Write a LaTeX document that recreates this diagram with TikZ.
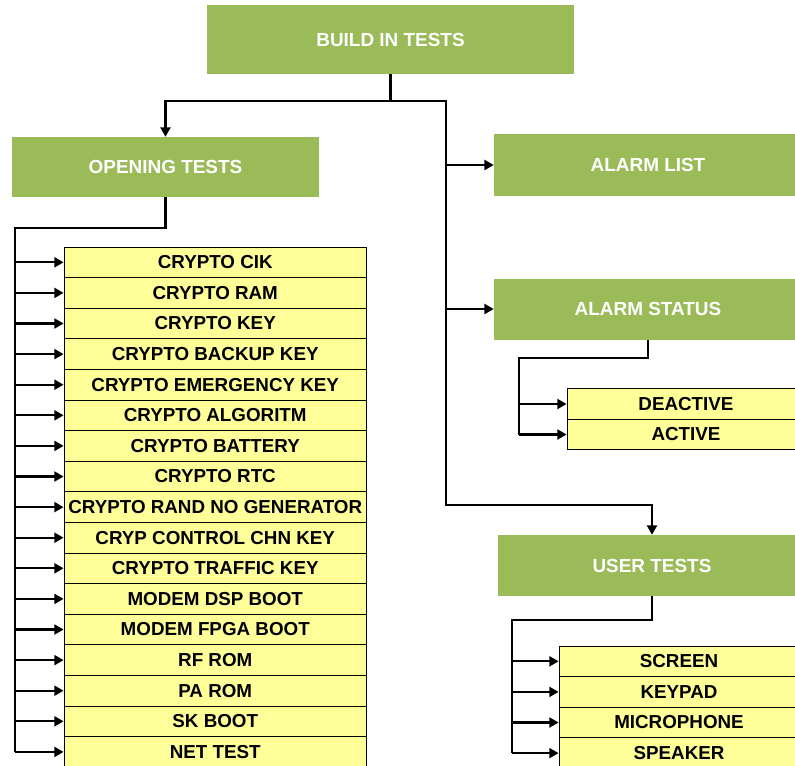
\documentclass[tikz,border=0pt]{standalone}
\usepackage{fontspec}
\setmainfont{Liberation Sans}
\usetikzlibrary{arrows.meta,calc}
\definecolor{olivegreen}{HTML}{9BBB59}
\definecolor{paleyellow}{HTML}{FFFF99}
\tikzset{
  greenbox/.style={fill=olivegreen, draw=none, text=white, inner sep=0pt,
    font=\fontsize{14.2}{16}\selectfont\bfseries},
  itembox/.style={fill=paleyellow, draw=black, line width=0.6pt, inner sep=0pt,
    font=\fontsize{14.1}{16}\selectfont\bfseries},
  conn/.style={line width=1.6pt, black},
  arr/.style={conn, -{Triangle[length=7pt,width=7.5pt]}},
}
\begin{document}
\begin{tikzpicture}[x=0.75pt,y=-0.75pt]
\useasboundingbox (0,0) rectangle (795,765);
\clip (0,0) rectangle (795,765);
% top level boxes
\node[greenbox, minimum width=367*0.75pt, minimum height=69*0.75pt] (build) at (390.5,39.5) {BUILD IN TESTS};
\node[greenbox, minimum width=307*0.75pt, minimum height=60*0.75pt] (open) at (165.5,167) {OPENING TESTS};
\node[greenbox, minimum width=308*0.75pt, minimum height=62*0.75pt] (alist) at (648,165) {ALARM LIST};
\node[greenbox, minimum width=308*0.75pt, minimum height=61*0.75pt] (astat) at (648,309) {ALARM STATUS};
\node[greenbox, minimum width=308*0.75pt, minimum height=61*0.75pt] (user) at (652,565.5) {USER TESTS};
% opening tests list
\foreach \t [count=\i] in {CRYPTO CIK, CRYPTO RAM, CRYPTO KEY, CRYPTO BACKUP KEY, CRYPTO EMERGENCY KEY, CRYPTO ALGORITM, CRYPTO BATTERY, CRYPTO RTC, CRYPTO RAND NO GENERATOR, CRYP CONTROL CHN KEY, CRYPTO TRAFFIC KEY, MODEM DSP BOOT, MODEM FPGA BOOT, RF ROM, PA ROM, SK BOOT, NET TEST}{
  \node[itembox, minimum width=302.5*0.75pt, minimum height=30.6*0.75pt] (o\i) at (215.25,{247+15.3+30.6*(\i-1)}) {\t};
}
% alarm status list
\node[itembox, minimum width=238*0.75pt, minimum height=30.5*0.75pt] (s1) at (686,404) {DEACTIVE};
\node[itembox, minimum width=238*0.75pt, minimum height=30.5*0.75pt] (s2) at (686,434.5) {ACTIVE};
% user tests list
\foreach \t [count=\i] in {SCREEN, KEYPAD, MICROPHONE, SPEAKER}{
  \node[itembox, minimum width=240*0.75pt, minimum height=30.6*0.75pt] (u\i) at (679,{646+15.3+30.6*(\i-1)}) {\t};
}
% junction coordinates
\coordinate (j1) at (390.5,101);
\coordinate (sp) at (446,101);
\coordinate (sp2) at (446,505);
\coordinate (lj) at (15,228);
\coordinate (aj) at (519,358);
\coordinate (uj) at (512,620);
% connectors from BUILD IN TESTS
\draw[arr] (build.south) -- (j1) -| (open.north);
\draw[arr] (j1) -| (sp2) -| (user.north);
\draw[arr] (alist.west -| sp) -- (alist.west);
\draw[arr] (astat.west -| sp) -- (astat.west);
% opening tests spine
\draw[conn] (open.south) |- (lj) -- (lj |- o17.west);
\foreach \i in {1,...,17}{
  \draw[arr] (o\i.west -| lj) -- (o\i.west);
}
% alarm status spine
\draw[conn] (astat.south) |- (aj) -- (aj |- s2.west);
\draw[arr] (s1.west -| aj) -- (s1.west);
\draw[arr] (s2.west -| aj) -- (s2.west);
% user tests spine
\draw[conn] (user.south) |- (uj) -- (uj |- u4.west);
\foreach \i in {1,...,4}{
  \draw[arr] (u\i.west -| uj) -- (u\i.west);
}
\end{tikzpicture}
\end{document}
